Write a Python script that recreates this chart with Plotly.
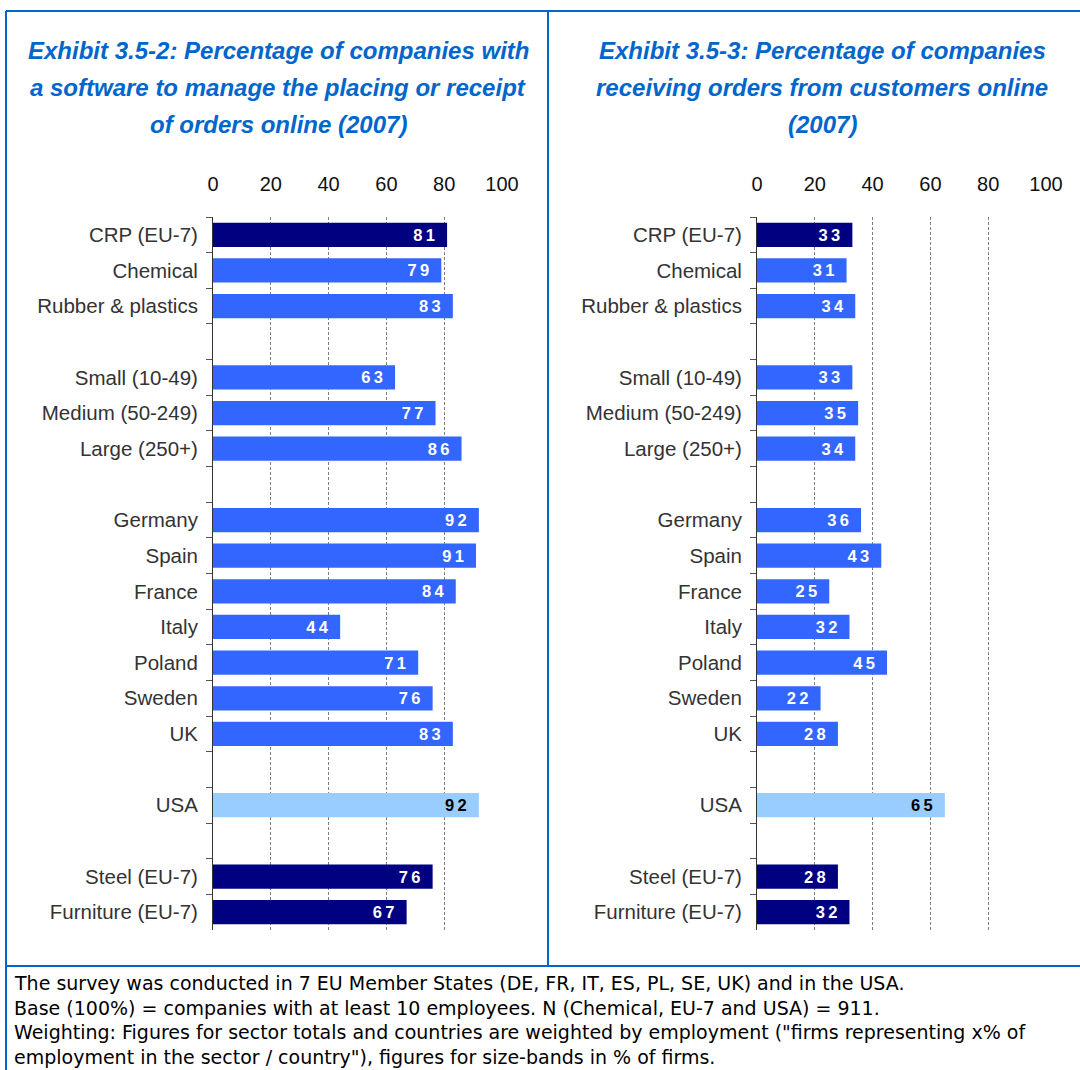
import plotly.graph_objects as go

# Row order (top to bottom); blank strings are spacer rows between groups
categories = ["CRP (EU-7)", "Chemical", "Rubber & plastics", " ",
              "Small (10-49)", "Medium (50-249)", "Large (250+)", "  ",
              "Germany", "Spain", "France", "Italy", "Poland", "Sweden", "UK", "   ",
              "USA", "    ",
              "Steel (EU-7)", "Furniture (EU-7)"]

software_orders = [81, 79, 83, None,
                   63, 77, 86, None,
                   92, 91, 84, 44, 71, 76, 83, None,
                   92, None,
                   76, 67]

online_orders = [33, 31, 34, None,
                 33, 35, 34, None,
                 36, 43, 25, 32, 45, 22, 28, None,
                 65, None,
                 28, 32]

# Group of each row: sector totals, size bands / countries, USA
groups = ["total", "sub", "sub", None,
          "sub", "sub", "sub", None,
          "sub", "sub", "sub", "sub", "sub", "sub", "sub", None,
          "usa", None,
          "total", "total"]

x_ticks = [0, 20, 40, 60, 80, 100]

title_left = ["Exhibit 3.5-2: Percentage of companies with",
              "a software to manage the placing or receipt",
              "of orders online (2007)"]
title_right = ["Exhibit 3.5-3: Percentage of companies",
               "receiving orders from customers online",
               "(2007)"]
footnote = ["The survey was conducted in 7 EU Member States (DE, FR, IT, ES, PL, SE, UK) and in the USA.",
            "Base (100%) = companies with at least 10 employees. N (Chemical, EU-7 and USA) = 911.",
            "Weighting: Figures for sector totals and countries are weighted by employment (\"firms representing x% of",
            "employment in the sector / country\"), figures for size-bands in % of firms."]

FILL = {"total": "#000080", "sub": "#3366FF", "usa": "#99CCFF", None: "#FFFFFF"}
INK = {"total": "#FFFFFF", "sub": "#FFFFFF", "usa": "#000000", None: "#FFFFFF"}
BLUE = "#0066CC"
FONT = "Liberation Sans, Arial, sans-serif"
W, H = 1080, 1070

bar_colors = [FILL[g] for g in groups]
text_colors = [INK[g] for g in groups]

fig = go.Figure()


def value_labels(values):
    # widely spaced digits, padded away from the bar end
    return ["" if v is None else "\u2009".join(str(v)) + "\u00a0\u00a0" for v in values]


def add_panel(values, xa, ya):
    fig.add_trace(go.Bar(
        x=values, y=categories, orientation="h",
        xaxis=xa, yaxis=ya,
        marker=dict(color=bar_colors, line=dict(width=0)),
        width=0.68,
        text=value_labels(values), texttemplate="%{text}",
        textposition="inside", insidetextanchor="end",
        textfont=dict(family=FONT, size=16.5, color=text_colors, weight="bold"),
        showlegend=False, hoverinfo="skip", cliponaxis=False,
    ))


add_panel(software_orders, "x", "y")
add_panel(online_orders, "x2", "y2")

x_common = dict(range=[0, 100], side="top", tickvals=x_ticks,
                showgrid=True, gridcolor="#808080", griddash="3px,2px", gridwidth=1,
                zeroline=False, showline=False, ticks="", automargin=False,
                tickfont=dict(family=FONT, size=20, color="#111111"),
                ticklabelstandoff=21, fixedrange=True)
y_common = dict(type="category", categoryorder="array", categoryarray=categories,
                autorange="reversed", showline=True, linecolor="#333333", linewidth=1,
                ticks="outside", tickson="boundaries", ticklen=6, tickcolor="#555555",
                showgrid=False, zeroline=False, automargin=False,
                tickfont=dict(family=FONT, size=20.5, color="#333333"),
                ticklabelstandoff=10, fixedrange=True)

y_dom = [1 - 930 / H, 1 - 217 / H]
fig.update_layout(
    width=W, height=H, autosize=False,
    template="none",
    margin=dict(l=0, r=0, t=0, b=0, pad=0),
    paper_bgcolor="white", plot_bgcolor="white",
    bargap=0.32,
    xaxis=dict(domain=[213 / W, 502 / W], anchor="y", **x_common),
    yaxis=dict(domain=y_dom, anchor="x", **y_common),
    xaxis2=dict(domain=[757 / W, 1046 / W], anchor="y2", **x_common),
    yaxis2=dict(domain=y_dom, anchor="x2", **y_common),
)

# Frame: outer border, panel divider, footer separator
line = dict(color=BLUE, width=2)
fig.add_shape(type="line", xref="paper", yref="paper",
              x0=6 / W, x1=1, y0=1 - 11 / H, y1=1 - 11 / H, line=line)
fig.add_shape(type="line", xref="paper", yref="paper",
              x0=6 / W, x1=6 / W, y0=0, y1=1 - 11 / H, line=line)
fig.add_shape(type="line", xref="paper", yref="paper",
              x0=548 / W, x1=548 / W, y0=1 - 966 / H, y1=1 - 11 / H, line=line)
fig.add_shape(type="line", xref="paper", yref="paper",
              x0=6 / W, x1=1, y0=1 - 966 / H, y1=1 - 966 / H, line=line)

# Panel titles, one annotation per line for the wide line spacing
title_font = dict(family=FONT, size=24, color=BLUE, weight="bold", style="italic")
for i, (tl, tr) in enumerate(zip(title_left, title_right)):
    y = 1 - (50 + 37.5 * i) / H
    fig.add_annotation(text=tl, xref="paper", yref="paper", x=278 / W, y=y,
                       xanchor="center", yanchor="middle", showarrow=False, font=title_font)
    fig.add_annotation(text=tr, xref="paper", yref="paper", x=822 / W, y=y,
                       xanchor="center", yanchor="middle", showarrow=False, font=title_font)

# Footnote lines
for i, txt in enumerate(footnote):
    fig.add_annotation(text=txt, xref="paper", yref="paper",
                       x=12 / W, y=1 - (983 + 24.5 * i) / H,
                       xanchor="left", yanchor="middle", showarrow=False, align="left",
                       font=dict(family="DejaVu Sans, sans-serif", size=19, color="#000000"))

fig.write_html("out.html")
